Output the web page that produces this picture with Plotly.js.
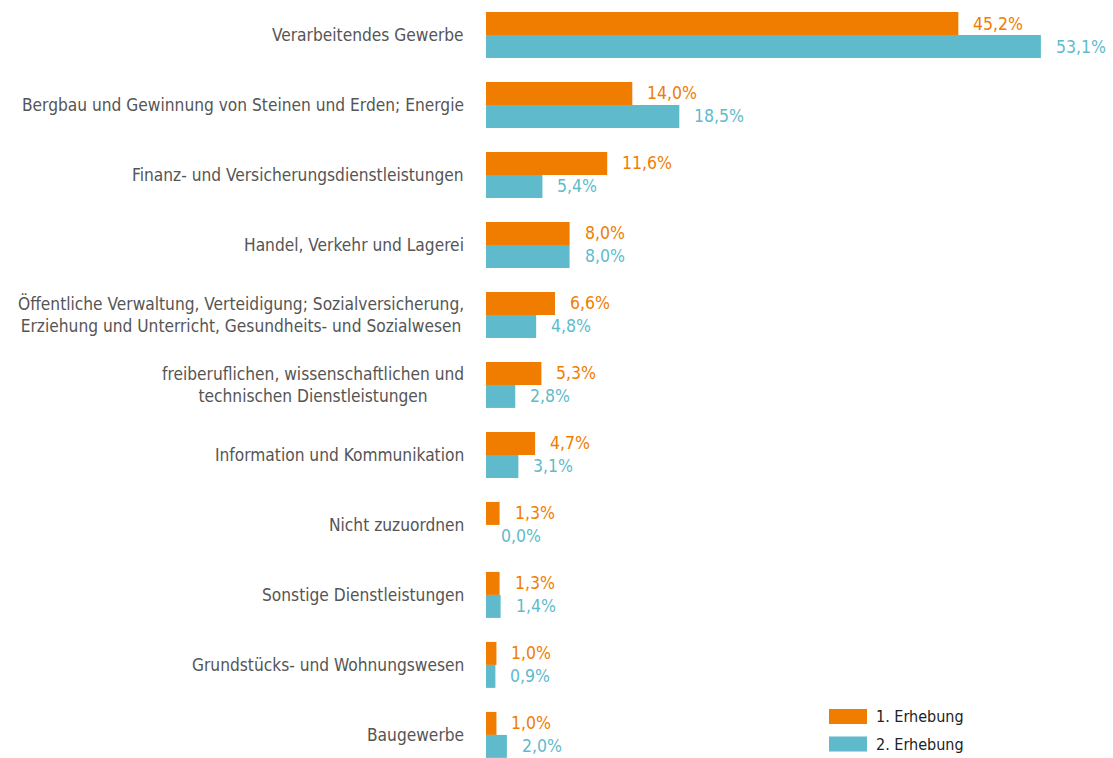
<!DOCTYPE html>
<html><head><meta charset="utf-8">
<script src="https://cdn.plot.ly/plotly-3.0.1.min.js"></script>
<style>html,body{margin:0;padding:0;background:#fff}#c{width:1113px;height:758px}</style>
</head><body><div id="c"></div>
<script>
const categories = [
  "Verarbeitendes Gewerbe",
  "Bergbau und Gewinnung von Steinen und Erden; Energie",
  "Finanz- und Versicherungsdienstleistungen",
  "Handel, Verkehr und Lagerei",
  "Öffentliche Verwaltung, Verteidigung; Sozialversicherung,<br>Erziehung und Unterricht, Gesundheits- und Sozialwesen",
  "freiberuflichen, wissenschaftlichen und<br>technischen Dienstleistungen",
  "Information und Kommunikation",
  "Nicht zuzuordnen",
  "Sonstige Dienstleistungen",
  "Grundstücks- und Wohnungswesen",
  "Baugewerbe"
];
const erhebung1 = [45.2, 14.0, 11.6, 8.0, 6.6, 5.3, 4.7, 1.3, 1.3, 1.0, 1.0];
const erhebung2 = [53.1, 18.5, 5.4, 8.0, 4.8, 2.8, 3.1, 0.0, 1.4, 0.9, 2.0];
const seriesNames = ["1. Erhebung", "2. Erhebung"];

const ORANGE = "#F07D00", TEAL = "#5FBBCB";
const FONT = "'Liberation Sans Narrow', 'DejaVu Sans Condensed', 'Roboto Condensed', Arial, sans-serif";
const fmt = v => v.toFixed(1).replace('.', ',') + '%';
const idx = categories.map((c, i) => i);

const traces = [
  {type:'bar', orientation:'h', y: idx, x: erhebung1, name: seriesNames[0], marker:{color: ORANGE}, hoverinfo:'none'},
  {type:'bar', orientation:'h', y: idx, x: erhebung2, name: seriesNames[1], marker:{color: TEAL}, hoverinfo:'none'}
];

const annotations = [];
categories.forEach((c, i) => {
  annotations.push({xref:'paper', yref:'y', x:0, y:i, xanchor:'right', yanchor:'middle', xshift:-20,
    text:c, showarrow:false, align:'center', font:{family:FONT, size:17.2, color:'#555555'}});
  annotations.push({xref:'x', yref:'y', x:erhebung1[i], y:i, xanchor:'left', yanchor:'middle', xshift:13, yshift:11.5,
    text:fmt(erhebung1[i]), showarrow:false, font:{family:FONT, size:17.5, color:ORANGE}});
  annotations.push({xref:'x', yref:'y', x:erhebung2[i], y:i, xanchor:'left', yanchor:'middle', xshift:13, yshift:-11.5,
    text:fmt(erhebung2[i]), showarrow:false, font:{family:FONT, size:17.5, color:TEAL}});
});
// legend
const shapes = [];
[ORANGE, TEAL].forEach((col, k) => {
  const y0 = 1 - (709 + 27.5*k)/758, y1 = 1 - (724 + 27.5*k)/758;
  shapes.push({type:'rect', xref:'paper', yref:'paper', x0:(829-486)/627, x1:(867-486)/627, y0:y0, y1:y1,
    fillcolor:col, line:{width:0}});
  annotations.push({xref:'paper', yref:'paper', x:(874-486)/627, y:(y0+y1)/2, xanchor:'left', yanchor:'middle',
    text:seriesNames[k], showarrow:false, font:{family:FONT, size:16, color:'#222222'}});
});

const layout = {
  width:1113, height:758,
  margin:{l:486, r:0, t:0, b:0},
  barmode:'group', bargap:0.343, bargroupgap:0,
  showlegend:false,
  paper_bgcolor:'#fff', plot_bgcolor:'#fff',
  xaxis:{range:[0,60], visible:false, fixedrange:true},
  yaxis:{range:[10.33,-0.5], autorange:false, showticklabels:false, showgrid:false, zeroline:false, ticks:'', fixedrange:true},
  annotations:annotations, shapes:shapes
};
Plotly.newPlot('c', traces, layout, {staticPlot:true, displayModeBar:false});
</script></body></html>
